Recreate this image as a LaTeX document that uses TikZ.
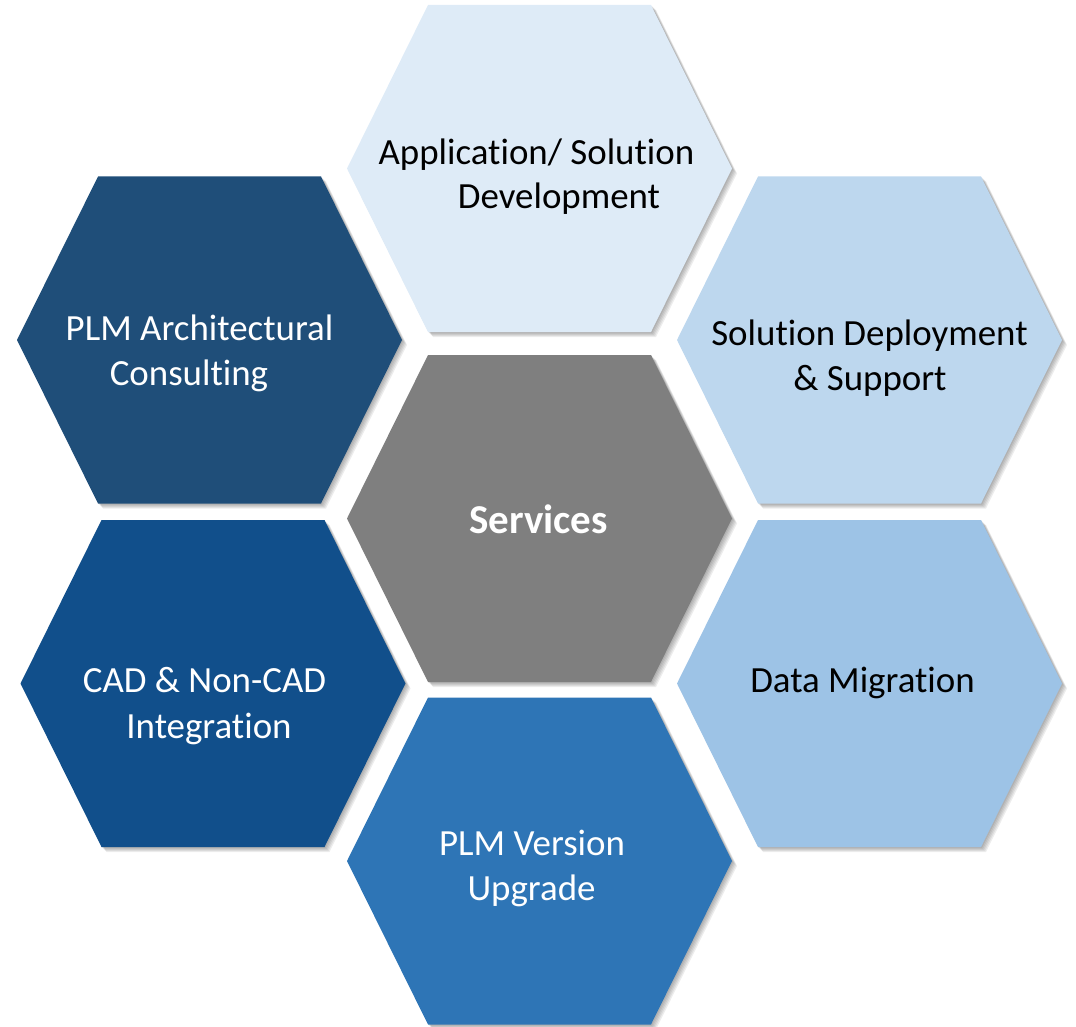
\documentclass[tikz,border=0pt]{standalone}
\usepackage{fontspec}
\setmainfont{Carlito}[Ligatures=NoCommon]
\definecolor{hexTop}{HTML}{DEEBF7}
\definecolor{hexTL}{HTML}{1F4E79}
\definecolor{hexTR}{HTML}{BDD7EE}
\definecolor{hexMid}{HTML}{7F7F7F}
\definecolor{hexBL}{HTML}{114F8B}
\definecolor{hexBR}{HTML}{9DC3E6}
\definecolor{hexBot}{HTML}{2E75B6}
\newcommand{\hexfill}[3]{%
  \fill[#1] ({#2-192.5},{#3}) -- ({#2-111.5},{#3-163.5}) -- ({#2+111.5},{#3-163.5})
    -- ({#2+192.5},{#3}) -- ({#2+111.5},{#3+163.5}) -- ({#2-111.5},{#3+163.5}) -- cycle;}
\newcommand{\hexshadow}[2]{%
  \foreach \d in {1,2,3,4,5}{\hexfill{black,opacity=0.07,shift={(\d,\d)}}{#1}{#2}}}
\begin{document}
\begin{tikzpicture}[x=1pt,y=-1pt,
  lbl/.style={anchor=base,inner sep=0pt,font=\fontsize{36.9}{44}\selectfont},
  lblw/.style={lbl,text=white},
  lblb/.style={lbl,text=black}]
\useasboundingbox (0,0) rectangle (1076,1027);
% shadows
\hexshadow{539.5}{168.5}
\hexshadow{209.5}{340}
\hexshadow{869.5}{340}
\hexshadow{539.5}{518.5}
\hexshadow{213}{683.5}
\hexshadow{869.5}{683.5}
\hexshadow{539.5}{861}
% hexagons
\hexfill{hexTop}{539.5}{168.5}
\hexfill{hexTL}{209.5}{340}
\hexfill{hexTR}{869.5}{340}
\hexfill{hexMid}{539.5}{518.5}
\hexfill{hexBL}{213}{683.5}
\hexfill{hexBR}{869.5}{683.5}
\hexfill{hexBot}{539.5}{861}
% labels
\node[lblb] (app1) at (536.5,165) {Application/ Solution};
\node[lblb] (app2) at (559,209) {Development};
\node[lblw] (arch1) at (199.5,340) {PLM Architectural};
\node[lblw] (arch2) at (189,385) {Consulting};
\node[lblb] (dep1) at (869.5,345) {Solution Deployment};
\node[lblb] (dep2) at (870,390) {\& Support};
\node[lblw,font=\fontsize{41}{48}\selectfont\bfseries] (serv) at (538.5,533) {Services};
\node[lblw] (cad1) at (204.5,692) {CAD \& Non-CAD};
\node[lblw] (cad2) at (209,738) {Integration};
\node[lblb] (mig) at (862.5,692) {Data Migration};
\node[lblw] (upg1) at (532,855) {PLM Version};
\node[lblw] (upg2) at (531.5,900) {Upgrade};
\end{tikzpicture}
\end{document}
